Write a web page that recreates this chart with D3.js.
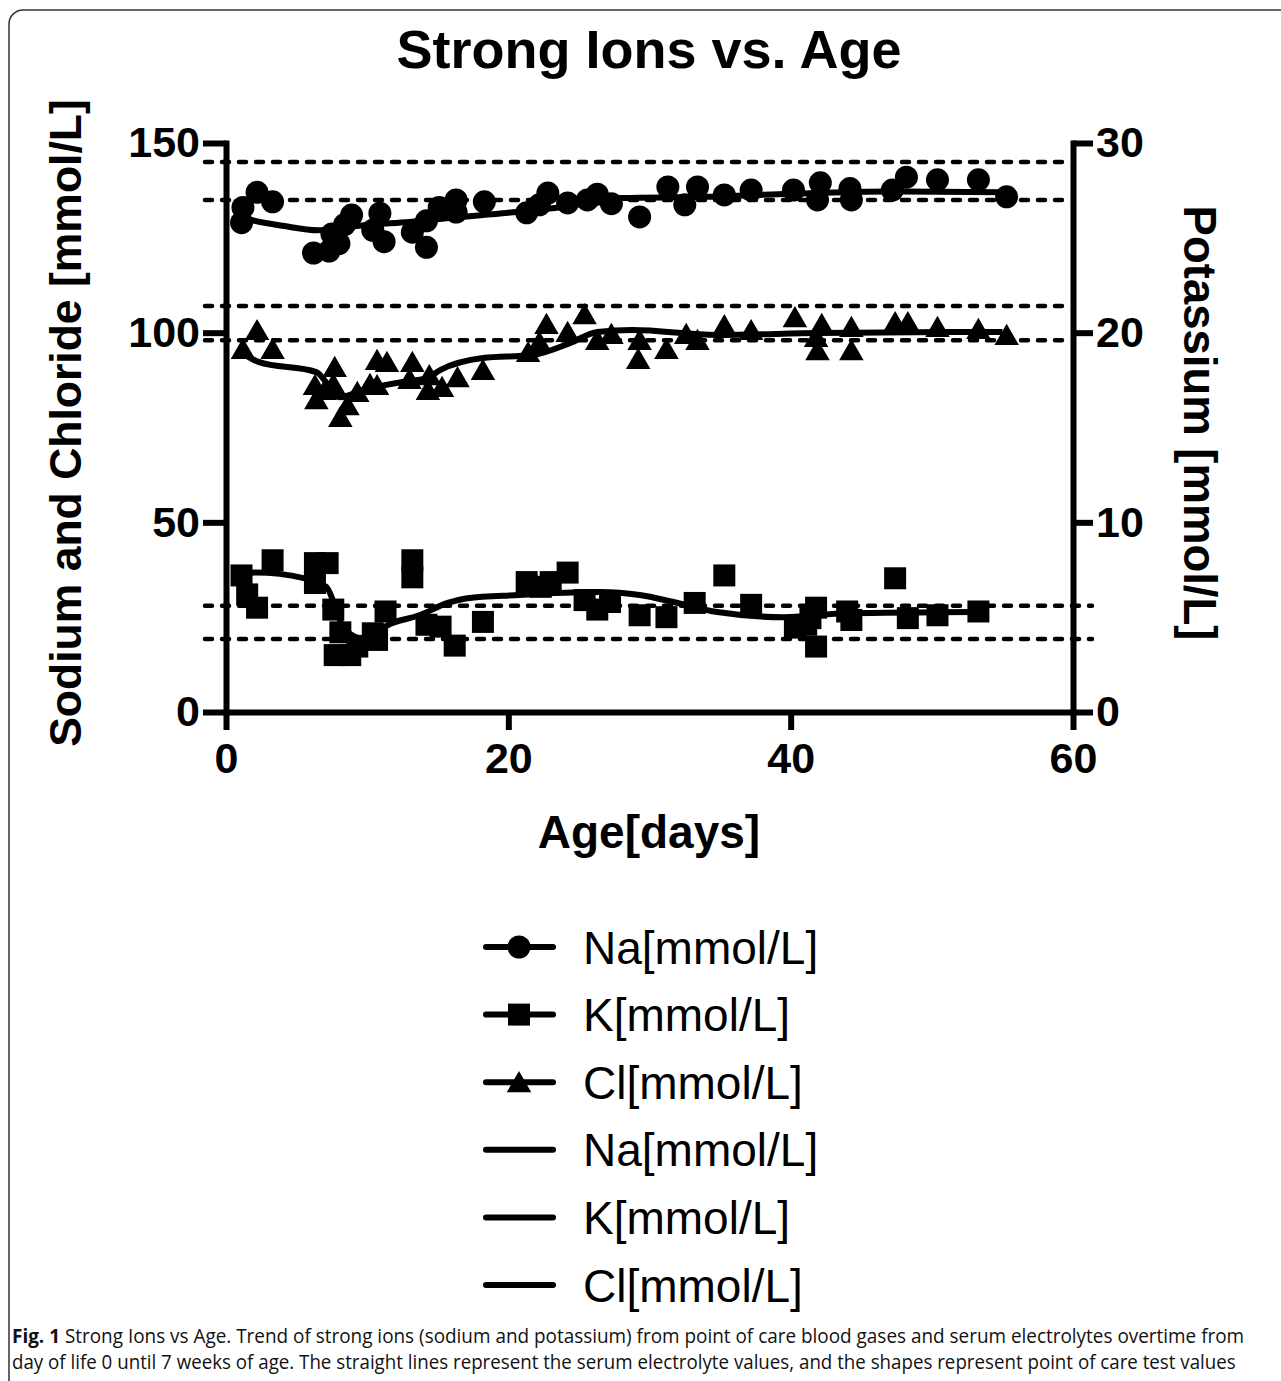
<!DOCTYPE html>
<html>
<head>
<meta charset="utf-8">
<script src="https://cdn.jsdelivr.net/npm/d3@7"></script>
<style>
  body { margin: 0; background: #fff; }
  svg { display: block; }
</style>
</head>
<body>
<div id="chart"></div>
<script>
// point of care values [day, value]
var naPoints = [[1.2,133],[1.1,129],[2.2,137],[3.3,134.5],[6.2,121],[7.3,121.5],[7.5,126],[8.0,123.5],
  [8.4,128.5],[8.9,131],[10.4,127],[10.9,131.5],[11.2,124],[13.2,126.5],[14.2,122.5],[14.2,129.5],
  [15.1,133],[16.3,135],[16.3,131.8],[18.3,134.5],[21.3,131.6],[22.2,133.7],[22.8,136.8],[24.2,134.2],
  [25.6,135],[26.3,136.5],[27.3,134],[29.3,130.5],[31.3,138.4],[32.5,133.7],[33.4,138.4],[35.3,136.3],
  [37.2,137.6],[40.2,137.6],[41.9,135],[42.1,139.5],[44.2,138],[44.3,135],[47.2,137.6],[48.2,141],
  [50.4,140.3],[53.3,140.3],[55.3,135.8]];

var clPoints = [[1.2,94.9],[2.2,99.9],[3.3,94.9],[6.3,85.4],[6.4,81.7],[7.0,84.1],[7.6,85.7],[7.7,90.2],
  [8.1,77],[8.6,80.1],[9.3,83.6],[10.2,85.7],[10.7,92],[10.7,85.4],[11.4,91.5],[13.0,87],[13.2,91.5],
  [14.3,84.1],[14.4,88],[15.3,84.9],[16.4,87.5],[18.2,89.4],[21.4,94.1],[22.2,96.8],[22.7,101.5],
  [24.2,99.4],[25.4,104.1],[26.3,97.3],[27.3,98.9],[29.2,92.3],[29.3,97.3],[31.2,94.9],[32.6,98.9],
  [33.4,97.3],[35.3,101.2],[37.2,99.9],[40.3,103.3],[41.8,98.1],[41.9,94.6],[42.2,101.5],[44.3,100.7],
  [44.3,94.6],[47.4,102],[48.3,102],[50.4,100.7],[53.3,100.2],[55.3,98.6]];

// potassium is read on the right axis
var kPoints = [[1.1,7.2],[1.5,6.2],[2.2,5.5],[3.3,8.0],[6.3,7.85],[7.2,7.85],[6.3,6.8],[7.6,5.4],
  [7.7,3.0],[8.8,3.0],[8.1,4.2],[9.3,3.45],[10.4,4.15],[10.7,3.8],[11.3,5.3],[13.2,8.0],[13.2,7.1],
  [14.2,4.6],[15.2,4.5],[16.2,3.5],[18.2,4.75],[21.3,6.85],[22.3,6.6],[23.0,6.85],[24.2,7.35],
  [25.4,5.9],[26.3,5.4],[27.2,5.8],[29.3,5.1],[31.2,5.0],[33.2,5.75],[35.3,7.2],[37.2,5.65],
  [40.3,4.45],[41.1,4.6],[41.8,3.45],[41.4,4.95],[41.8,5.5],[44.3,4.85],[44.0,5.3],[47.4,7.05],
  [48.3,4.95],[50.4,5.1],[53.3,5.3]];

// serum electrolyte trend lines
var naLine = [[1,130.5],[2,129.5],[4,128.2],[6.5,127],[8,127.6],[10,128.4],[13,129.2],[16,130.3],
  [20,131.6],[24,133.2],[28,135.5],[34,135.8],[40,136.6],[47,137.2],[55,137]];
var clLine = [[1,95],[2.3,92.3],[6.4,89.6],[8.1,83],[9.7,84.9],[12.5,87],[14.2,88],[15.2,90.2],
  [18.2,93.3],[21.7,94.1],[24.4,97.3],[26.3,100.2],[28.8,100.7],[34.8,99.4],[42,99.9],[55,100.2]];
var kLine = [[1,7.3],[2.1,7.35],[5.5,7.06],[7.1,6.6],[8.3,4.5],[9.5,3.9],[11.8,4.7],[13.7,5.1],
  [15.7,5.75],[17.1,6.0],[20.8,6.17],[23.2,6.27],[26.5,6.33],[29.3,6.17],[31.7,5.8],[34.8,5.27],
  [39.5,5.0],[44,5.2],[53.2,5.27]];

// reference ranges (dashed)
var naRef = [135, 145];
var clRef = [98, 107];
var kRef = [3.85, 5.6];

var xTicks = [0, 20, 40, 60];
var yLeftTicks = [0, 50, 100, 150];
var yRightTicks = [0, 10, 20, 30];
var legendLabels = ["Na[mmol/L]", "K[mmol/L]", "Cl[mmol/L]", "Na[mmol/L]", "K[mmol/L]", "Cl[mmol/L]"];
var legendShapes = ["circle", "square", "triangle", "none", "none", "none"];

var W = 1281, H = 1381;
var svg = d3.select("#chart").append("svg").attr("width", W).attr("height", H);

svg.append("rect").attr("x", 9).attr("y", 10).attr("width", 1300).attr("height", 1395)
  .attr("rx", 14).attr("fill", "none").attr("stroke", "#333").attr("stroke-width", 1.5);

var x = d3.scaleLinear().domain([0, 60]).range([226, 1073]);
var yL = d3.scaleLinear().domain([0, 150]).range([712, 143]);
var yR = d3.scaleLinear().domain([0, 30]).range([712, 143]);

var bold = "'Liberation Sans', Arial, sans-serif";

// dashed reference lines
function refLine(v, scale, x1, x2) {
  svg.append("line").attr("x1", x1).attr("x2", x2)
    .attr("y1", scale(v)).attr("y2", scale(v))
    .attr("stroke", "#000").attr("stroke-width", 4.5)
    .attr("stroke-dasharray", "7,10").attr("stroke-linecap", "round");
}
naRef.forEach(function(v) { refLine(v, yL, 205, 1064); });
clRef.forEach(function(v) { refLine(v, yL, 205, 1064); });
kRef.forEach(function(v) { refLine(v, yR, 205, 1092); });

// axes
function styleAxis(g) {
  g.select(".domain").attr("stroke-width", 6).attr("stroke-linecap", "square");
  g.selectAll(".tick line").attr("stroke-width", 6);
  g.selectAll(".tick text").attr("font-family", bold).attr("font-weight", "bold")
    .attr("font-size", 43).attr("fill", "#000");
}
svg.append("g").attr("transform", "translate(0,712)")
  .call(d3.axisBottom(x).tickValues(xTicks).tickSize(18).tickSizeOuter(0).tickPadding(12))
  .call(styleAxis);
svg.append("g").attr("transform", "translate(226,0)")
  .call(d3.axisLeft(yL).tickValues(yLeftTicks).tickSize(23).tickSizeOuter(0).tickPadding(3))
  .call(styleAxis);
svg.append("g").attr("transform", "translate(1073,0)")
  .call(d3.axisRight(yR).tickValues(yRightTicks).tickSize(20).tickSizeOuter(0).tickPadding(3))
  .call(styleAxis);

// trend lines
var curve = d3.curveMonotoneX;
function trend(data, scale) {
  svg.append("path").datum(data)
    .attr("d", d3.line().curve(curve).x(function(d) { return x(d[0]); }).y(function(d) { return scale(d[1]); }))
    .attr("fill", "none").attr("stroke", "#000").attr("stroke-width", 6).attr("stroke-linejoin", "round");
}
trend(naLine, yL);
trend(clLine, yL);
trend(kLine, yR);

// markers
var sym = {
  circle: d3.symbol().type(d3.symbolCircle).size(Math.PI * 11.5 * 11.5),
  square: d3.symbol().type(d3.symbolSquare).size(22 * 22),
  triangle: d3.symbol().type(d3.symbolTriangle).size(260)
};
function points(data, scale, shape) {
  svg.append("g").selectAll("path").data(data).enter().append("path")
    .attr("d", sym[shape])
    .attr("transform", function(d) { return "translate(" + x(d[0]) + "," + scale(d[1]) + ")"; })
    .attr("fill", "#000");
}
points(naPoints, yL, "circle");
points(kPoints, yR, "square");
points(clPoints, yL, "triangle");

// titles
svg.append("text").attr("x", 649).attr("y", 68).attr("text-anchor", "middle")
  .attr("font-family", bold).attr("font-weight", "bold").attr("font-size", 54)
  .text("Strong Ions vs. Age");
svg.append("text").attr("x", 649).attr("y", 848).attr("text-anchor", "middle")
  .attr("font-family", bold).attr("font-weight", "bold").attr("font-size", 46)
  .text("Age[days]");
svg.append("text").attr("transform", "translate(81,423) rotate(-90)").attr("text-anchor", "middle")
  .attr("font-family", bold).attr("font-weight", "bold").attr("font-size", 44.5)
  .text("Sodium and Chloride [mmol/L]");
svg.append("text").attr("transform", "translate(1184,423) rotate(90)").attr("text-anchor", "middle")
  .attr("font-family", bold).attr("font-weight", "bold").attr("font-size", 45.5)
  .text("Potassium [mmol/L]");

// legend
var lg = svg.append("g").selectAll("g").data(legendLabels).enter().append("g")
  .attr("transform", function(d, i) { return "translate(0," + (947 + i * 67.6) + ")"; });
lg.append("line").attr("x1", 486).attr("x2", 553).attr("stroke", "#000")
  .attr("stroke-width", 6).attr("stroke-linecap", "round");
lg.filter(function(d, i) { return legendShapes[i] !== "none"; }).append("path")
  .attr("d", function(d, i) { return sym[legendShapes[i]](); })
  .attr("transform", function(d, i) { return "translate(519," + (legendShapes[i] === "triangle" ? 3 : 0) + ")"; })
  .attr("fill", "#000");
lg.append("text").attr("x", 583).attr("dy", "0.36em")
  .attr("font-family", "'Liberation Sans', Arial, sans-serif").attr("font-size", 46)
  .text(function(d) { return d; });

// caption
var capLines = [
  { bold: "Fig. 1", rest: " Strong Ions vs Age. Trend of strong ions (sodium and potassium) from point of care blood gases and serum electrolytes overtime from", w: 1233, y: 1343 },
  { bold: "", rest: "day of life 0 until 7 weeks of age. The straight lines represent the serum electrolyte values, and the shapes represent point of care test values", w: 1224, y: 1369 }
];
capLines.forEach(function(c) {
  var t = svg.append("text").attr("font-family", "'Open Sans', sans-serif").attr("font-size", 19.5).attr("fill", "#111");
  if (c.bold) t.append("tspan").attr("font-weight", "bold").text(c.bold);
  t.append("tspan").text(c.rest);
  var k = c.w / t.node().getComputedTextLength();
  t.attr("transform", "translate(12," + c.y + ") scale(" + k + ",1)");
});
</script>
</body>
</html>
